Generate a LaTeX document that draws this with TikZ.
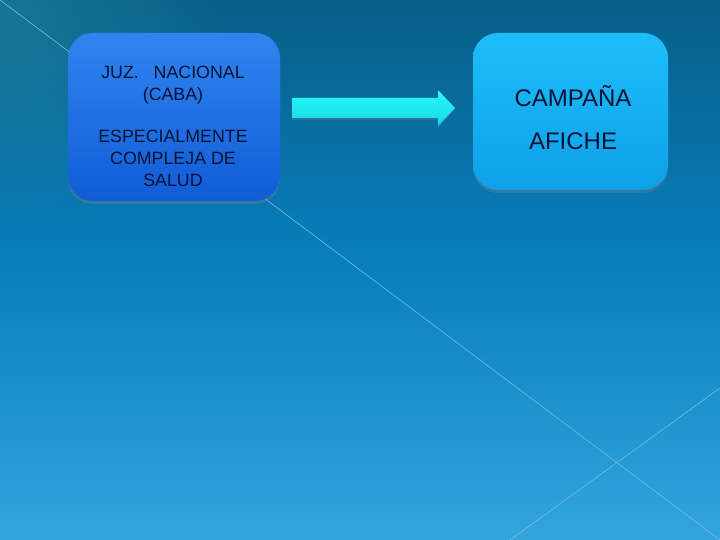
\documentclass[tikz,border=0pt]{standalone}
\usepackage{fontspec}
\setmainfont{Liberation Sans}
\usetikzlibrary{shadows,fadings}
\tikzfading[name=softglow, inner color=transparent!0, outer color=transparent!100]
\definecolor{bgtop}{RGB}{8,94,136}
\definecolor{bgmid}{RGB}{8,128,190}
\definecolor{bgbot}{RGB}{52,164,220}
\definecolor{tealc}{RGB}{40,140,160}
\definecolor{boxAtop}{RGB}{48,132,240}
\definecolor{boxAbot}{RGB}{16,92,214}
\definecolor{boxBtop}{RGB}{30,190,250}
\definecolor{boxBbot}{RGB}{14,160,232}
\definecolor{txt}{RGB}{8,18,50}
\definecolor{arrtop}{RGB}{40,250,250}
\definecolor{arrbot}{RGB}{20,215,230}
\definecolor{diag}{RGB}{110,190,230}
\tikzset{
  panel/.style={rounded corners=25pt, draw=none, drop shadow={shadow xshift=0pt, shadow yshift=-3pt, opacity=0.35}},
  lbl/.style={text=txt, align=center, inner sep=0pt},
  diagline/.style={draw=diag, line width=0.6pt}
}
\begin{document}
\begin{tikzpicture}[x=1pt,y=-1pt]
\useasboundingbox (0,0) rectangle (720,540);
% background
\shade[top color=bgtop, bottom color=bgbot, middle color=bgmid] (0,0) rectangle (720,540);
\fill[tealc, fill opacity=0.5, path fading=softglow] (0,0) circle (230);
% diagonal lines
\coordinate (d1) at (0,0);
\coordinate (d2) at (720,540);
\coordinate (d3) at (720,388);
\coordinate (d4) at (510,540);
\draw[diagline] (d1) -- (d2);
\draw[diagline] (d3) -- (d4);
% boxes
\shade[panel, top color=boxAtop, bottom color=boxAbot] (68,33) rectangle (280,201);
\coordinate (A) at (173,126);
\shade[panel, top color=boxBtop, bottom color=boxBbot] (473,33) rectangle (668,190);
\coordinate (B) at (573,118);
\node[lbl, font=\fontsize{17.8}{22}\selectfont] (ta) at (A) {JUZ. \ \ NACIONAL\\(CABA)\\[20pt]ESPECIALMENTE\\COMPLEJA DE\\SALUD};
\node[lbl, font=\fontsize{24}{43}\selectfont] (tb) at (B) {CAMPAÑA\\AFICHE};
% arrow
\shade[top color=arrtop, bottom color=arrbot, drop shadow={shadow xshift=0pt, shadow yshift=-2pt, opacity=0.3}]
  (292,98) -- (438,98) -- (438,90) -- (455,108) -- (438,126) -- (438,118) -- (292,118) -- cycle;
\end{tikzpicture}
\end{document}
